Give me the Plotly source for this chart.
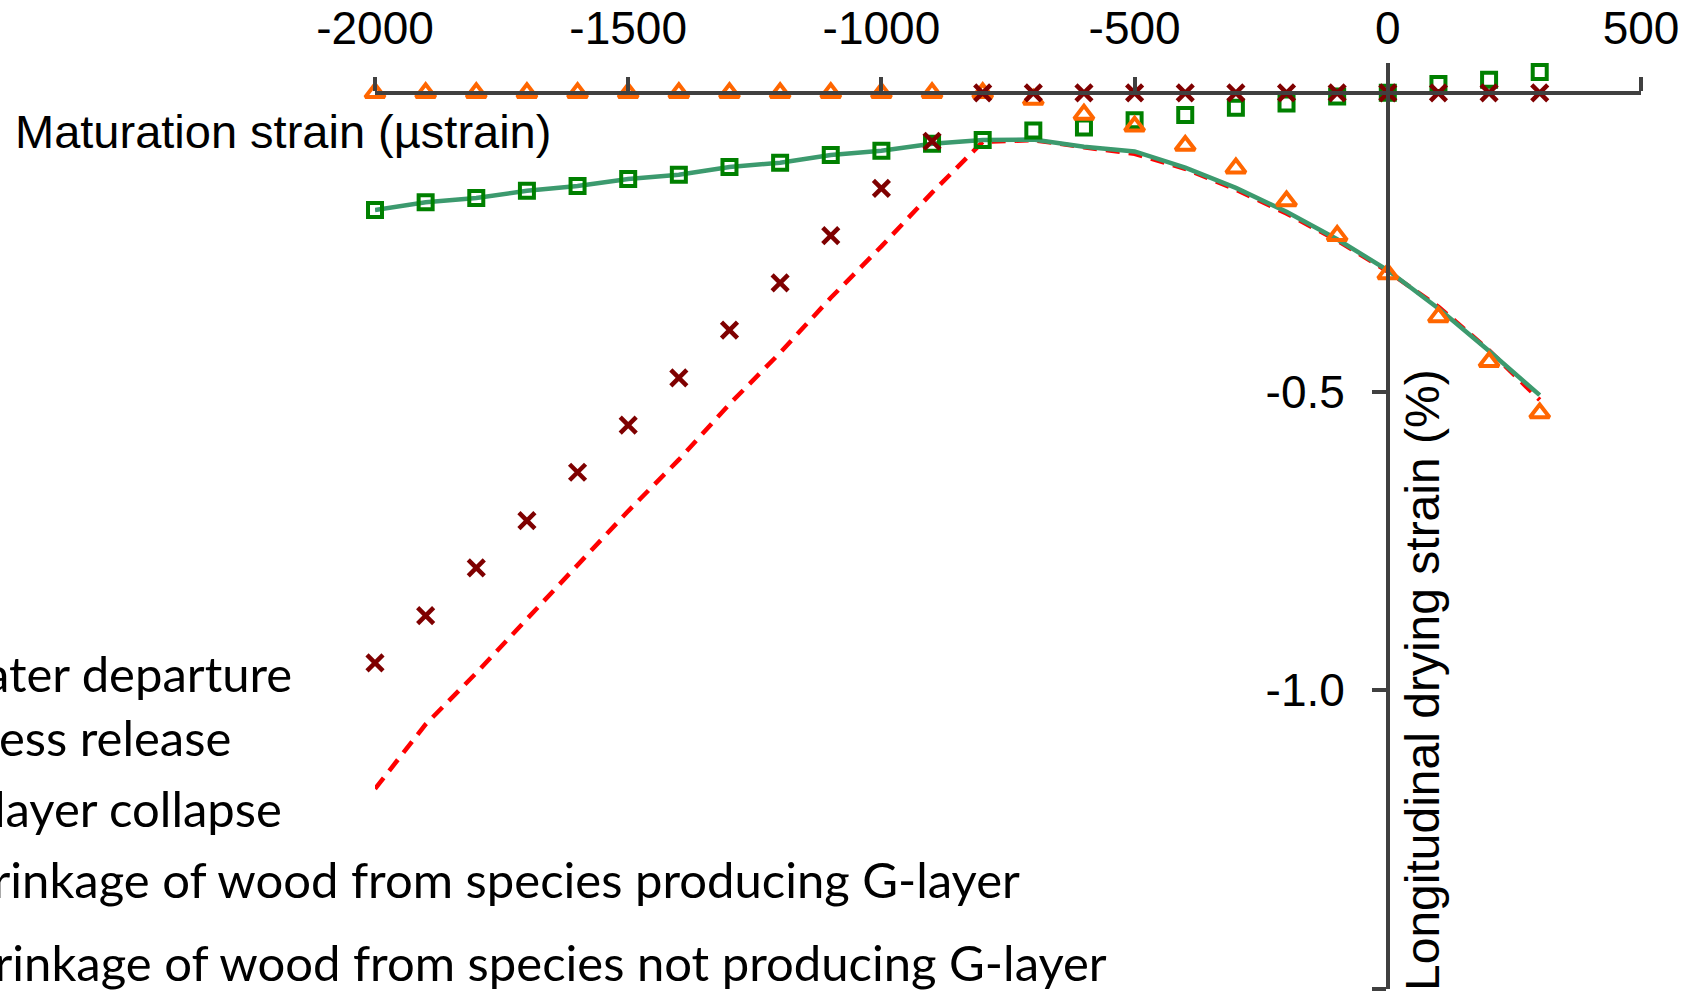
import plotly.graph_objects as go

# ---- data ----
maturation = [-2000, -1900, -1800, -1700, -1600, -1500, -1400, -1300, -1200, -1100, -1000,
              -900, -800, -700, -600, -500, -400, -300, -200, -100, 0, 100, 200, 300]

water_departure = [0, 0, 0, 0, 0, 0, 0, 0, 0, 0, 0,
                   0, 0, -0.011, -0.036, -0.056, -0.088, -0.126, -0.181, -0.239, -0.303, -0.375, -0.450, -0.536]

stress_release = [-0.954, -0.875, -0.795, -0.716, -0.635, -0.556, -0.477, -0.397, -0.318, -0.239, -0.160,
                  -0.081, 0, 0, 0, 0, 0, 0, 0, 0, 0, 0, 0, 0]

g_layer_collapse = [-0.196, -0.183, -0.176, -0.164, -0.156, -0.144, -0.137, -0.124, -0.117, -0.104, -0.097,
                    -0.085, -0.079, -0.063, -0.058, -0.046, -0.037, -0.025, -0.018, -0.006, 0.0, 0.015, 0.022, 0.035]

shrink_g_species = [-0.196, -0.183, -0.176, -0.164, -0.156, -0.144, -0.137, -0.124, -0.117, -0.104, -0.097,
                    -0.085, -0.079, -0.078, -0.090, -0.098, -0.125, -0.159, -0.199, -0.245, -0.297, -0.361, -0.432, -0.506]

shrink_non_g_species = [-1.165, -1.057, -0.971, -0.880, -0.791, -0.700, -0.614, -0.521, -0.435, -0.343, -0.257,
                        -0.167, -0.082, -0.079, -0.091, -0.102, -0.127, -0.162, -0.202, -0.247, -0.299, -0.358, -0.431, -0.514]

legend_labels = ["Water departure", "Stress release", "G-layer collapse",
                 "Shrinkage of wood from species producing G-layer",
                 "Shrinkage of wood from species not producing G-layer"]

x_ticks = [-2000, -1500, -1000, -500, 0, 500]
x_tick_text = ["-2000", "-1500", "-1000", "-500", "0", "500"]
y_ticks = [-1.5, -1.0, -0.5]
y_tick_text = ["-1.5", "-1.0", "-0.5"]
x_title = "Maturation strain (µstrain)"
y_title = "Longitudinal drying strain (%)"

# ---- layout geometry (pixels) ----
W, H = 1691, 1004
ML, MR, MT, MB = 375, 50, 63, 15
PW, PH = W - ML - MR, H - MT - MB
XR = [-2000, 500]
YR = [-1.5, 0.05]


def px2paper_x(px):
    return (px - ML) / PW


def px2paper_y(py):
    return 1 - (py - MT) / PH


AXIS_COLOR = "#404040"
FONT_AX = "Liberation Sans, Arial, sans-serif"
FONT_LEG = "Lato, Open Sans, sans-serif"

fig = go.Figure()

fig.add_trace(go.Scatter(x=maturation, y=shrink_non_g_species, mode="lines",
                         name=legend_labels[4],
                         line=dict(color="#FF0000", width=4.5, dash="14px,9px"),
                         cliponaxis=False))
fig.add_trace(go.Scatter(x=maturation, y=shrink_g_species, mode="lines",
                         name=legend_labels[3],
                         line=dict(color="#3C9A6E", width=4.5),
                         cliponaxis=False))
fig.add_trace(go.Scatter(x=maturation, y=g_layer_collapse, mode="markers",
                         name=legend_labels[2],
                         marker=dict(symbol="square-open", size=14, color="#008000",
                                     line=dict(color="#008000", width=4)),
                         cliponaxis=False))
fig.add_trace(go.Scatter(x=maturation, y=water_departure, mode="markers",
                         name=legend_labels[0],
                         marker=dict(symbol="triangle-up-open", size=17, color="#FF6600",
                                     line=dict(color="#FF6600", width=4)),
                         cliponaxis=False))
fig.add_trace(go.Scatter(x=maturation, y=stress_release, mode="markers",
                         name=legend_labels[1],
                         marker=dict(symbol="x-thin-open", size=16, color="#7F0000",
                                     line=dict(color="#7F0000", width=4.5)),
                         cliponaxis=False))

x_axis_pos = (0 - YR[0]) / (YR[1] - YR[0])
y_axis_pos = (0 - XR[0]) / (XR[1] - XR[0])

fig.update_layout(
    width=W, height=H,
    margin=dict(l=ML, r=MR, t=MT, b=MB, pad=0, autoexpand=False),
    paper_bgcolor="white", plot_bgcolor="white",
    showlegend=False,
    xaxis=dict(range=XR, anchor="free", position=x_axis_pos, side="top", automargin=False,
               tickmode="array", tickvals=x_ticks, ticktext=x_tick_text,
               ticks="outside", ticklen=14, tickwidth=3.5, tickcolor=AXIS_COLOR,
               showline=True, linecolor=AXIS_COLOR, linewidth=3.5,
               showgrid=False, zeroline=False, ticklabelstandoff=15,
               tickfont=dict(family=FONT_AX, size=46, color="black")),
    yaxis=dict(range=YR, anchor="free", position=y_axis_pos, side="left", automargin=False,
               tickmode="array", tickvals=y_ticks, ticktext=y_tick_text,
               ticks="outside", ticklen=14, tickwidth=3.5,
               tickcolor=AXIS_COLOR, showline=True, linecolor=AXIS_COLOR, linewidth=3.5,
               showgrid=False, zeroline=False, ticklabelstandoff=18,
               tickfont=dict(family=FONT_AX, size=46, color="black")),
)

annotations = [
    dict(text=x_title, xref="paper", yref="paper", x=px2paper_x(13), y=px2paper_y(131),
         xanchor="left", yanchor="middle", showarrow=False,
         font=dict(family=FONT_AX, size=47, color="black")),
    dict(text=y_title, xref="paper", yref="paper", x=px2paper_x(1422), y=px2paper_y(680),
         xanchor="center", yanchor="middle", textangle=-90, showarrow=False,
         font=dict(family=FONT_AX, size=48, color="black")),
]

legend_ends = [294, 233, 284, 1022, 1109]
legend_rows = [673, 737, 808, 879, 962]
for lab, xe, yc in zip(legend_labels, legend_ends, legend_rows):
    annotations.append(dict(text=lab, xref="paper", yref="paper",
                            x=px2paper_x(xe), y=px2paper_y(yc),
                            xanchor="right", yanchor="middle", showarrow=False,
                            font=dict(family=FONT_LEG, size=49, color="black")))

fig.update_layout(annotations=annotations)

fig.write_html("out.html")
